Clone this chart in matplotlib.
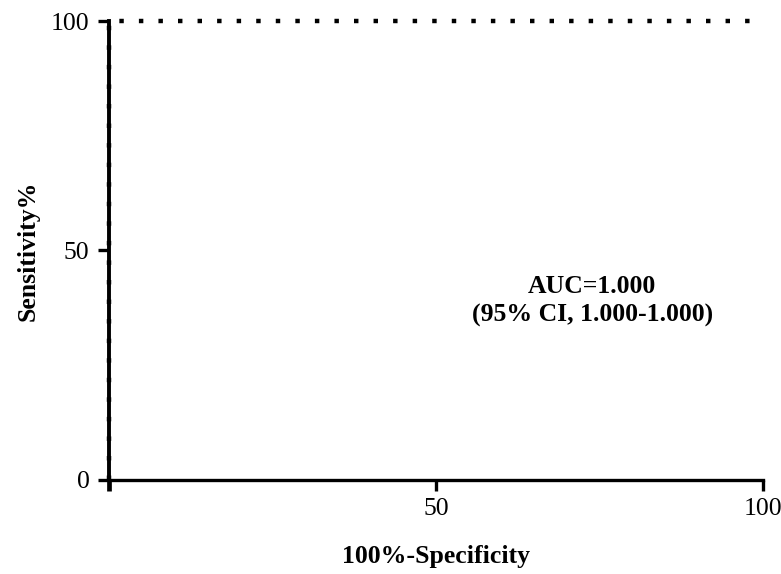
import matplotlib
matplotlib.use("Agg")
import matplotlib.pyplot as plt

# ROC curve points (100%-Specificity, Sensitivity%)
fpr = [0, 0, 100]
tpr = [0, 100, 100]

x_ticks = [0, 50, 100]
x_tick_labels = ["", "50", "100"]
y_ticks = [0, 50, 100]
y_tick_labels = ["0", "50", "100"]

auc_text = "AUC=1.000\n(95% CI, 1.000-1.000)"

plt.rcParams['font.family'] = ['Liberation Serif', 'DejaVu Serif']

fig = plt.figure(figsize=(7.81, 5.74), dpi=100)
ax = fig.add_axes([0.1396, 0.1638, 0.8374, 0.7996])

# dotted ROC line sits on top of the left spine
ax.plot(fpr, tpr, color='black', linewidth=3.2, linestyle=(0, (1.0, 3.4)),
        clip_on=False, zorder=3)

ax.set_xlim(0, 100)
ax.set_ylim(0, 100)
ax.set_xticks(x_ticks)
ax.set_xticklabels(x_tick_labels)
ax.set_yticks(y_ticks)
ax.set_yticklabels(y_tick_labels)

for s in ['top', 'right']:
    ax.spines[s].set_visible(False)
ax.spines['left'].set_linewidth(2.8)
ax.spines['bottom'].set_linewidth(2.4)

ax.tick_params(axis='x', direction='out', length=8, width=2.4, labelsize=18.5, pad=5)
ax.tick_params(axis='y', direction='out', length=8, width=2.4, labelsize=18.5, pad=6)
ax.xaxis.get_major_ticks()[0].tick1line.set_markeredgewidth(3.4)

ax.set_xlabel("100%-Specificity", fontsize=18.5, fontweight='bold', labelpad=18)
ax.set_ylabel("Sensitivity%", fontsize=18.5, fontweight='bold', labelpad=8)

ax.text(73.9, 39, auc_text, ha='center', va='center', fontsize=18.5,
        fontweight='bold', linespacing=1.28)

fig.savefig("out.png", dpi=100)
